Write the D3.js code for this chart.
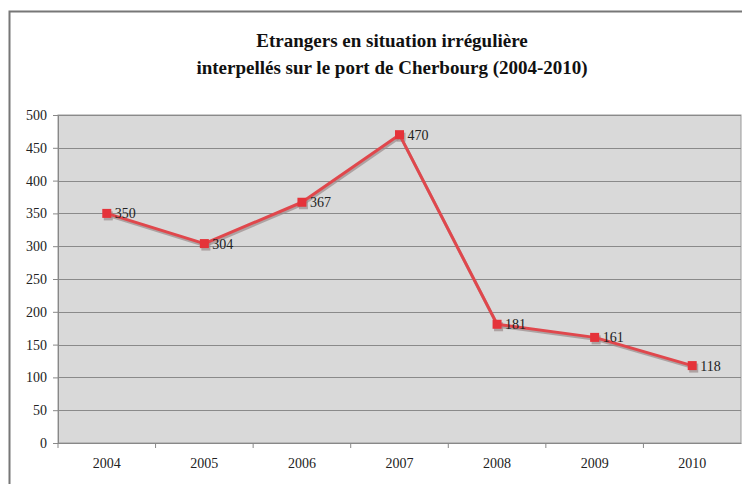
<!DOCTYPE html>
<html>
<head>
<meta charset="utf-8">
<script src="https://cdn.jsdelivr.net/npm/d3@7"></script>
<style>
body { margin: 0; background: #fff; }
text { font-family: "Liberation Serif", "DejaVu Serif", serif; }
</style>
</head>
<body>
<div id="chart"></div>
<script>
var width = 742;
var height = 484;

var years = ["2004", "2005", "2006", "2007", "2008", "2009", "2010"];
var values = [350, 304, 367, 470, 181, 161, 118];
var yTicks = [0, 50, 100, 150, 200, 250, 300, 350, 400, 450, 500];
var titleLines = ["Etrangers en situation irrégulière", "interpellés sur le port de Cherbourg (2004-2010)"];

var plotLeft = 58, plotRight = 741, plotTop = 115, plotBottom = 443;

var svg = d3.select("#chart")
    .append("svg")
    .attr("width", width)
    .attr("height", height);

// outer frame (cropped at right and bottom)
svg.append("rect")
    .attr("x", 9.5)
    .attr("y", 11.5)
    .attr("width", 740)
    .attr("height", 480)
    .attr("fill", "#fff")
    .attr("stroke", "#777")
    .attr("stroke-width", 2);

svg.selectAll("text.title")
    .data(titleLines)
    .enter()
    .append("text")
    .attr("class", "title")
    .attr("x", 392)
    .attr("y", function(d, i) { return 47 + i * 27; })
    .attr("text-anchor", "middle")
    .attr("font-size", "19px")
    .attr("font-weight", "bold")
    .attr("fill", "#111")
    .text(function(d) { return d; });

var x = d3.scaleBand()
    .domain(years)
    .range([plotLeft, plotRight]);

var y = d3.scaleLinear()
    .domain([0, 500])
    .range([plotBottom, plotTop]);

svg.append("rect")
    .attr("x", plotLeft)
    .attr("y", plotTop)
    .attr("width", plotRight - plotLeft)
    .attr("height", plotBottom - plotTop)
    .attr("fill", "#d9d9d9")
    .attr("stroke", "#999")
    .attr("stroke-width", 1);

// gridlines
svg.append("g")
    .selectAll("line")
    .data(yTicks)
    .enter()
    .append("line")
    .attr("x1", plotLeft)
    .attr("x2", plotRight)
    .attr("y1", function(d) { return Math.round(y(d)) + 0.5; })
    .attr("y2", function(d) { return Math.round(y(d)) + 0.5; })
    .attr("stroke", "#8a8a8a")
    .attr("stroke-width", 1.2);

// y axis
var yAxis = svg.append("g")
    .attr("transform", "translate(" + plotLeft + ",0)")
    .call(d3.axisLeft(y).tickValues(yTicks).tickSize(5).tickPadding(6));
yAxis.select(".domain").attr("stroke", "#888");
yAxis.selectAll(".tick line").attr("stroke", "#888");
yAxis.selectAll(".tick text")
    .attr("font-family", "Liberation Serif, serif")
    .attr("font-size", "14px")
    .attr("fill", "#222");

// x axis
var xAxis = svg.append("g")
    .attr("transform", "translate(0," + plotBottom + ")")
    .call(d3.axisBottom(x).tickSize(0).tickPadding(15));
xAxis.select(".domain").attr("stroke", "#888");
xAxis.selectAll(".tick text")
    .attr("font-family", "Liberation Serif, serif")
    .attr("font-size", "14px")
    .attr("fill", "#222");
xAxis.selectAll("line.sep")
    .data(years)
    .enter()
    .append("line")
    .attr("class", "sep")
    .attr("x1", function(d) { return x(d); })
    .attr("x2", function(d) { return x(d); })
    .attr("y1", 0)
    .attr("y2", 5)
    .attr("stroke", "#888");

var line = d3.line()
    .x(function(d, i) { return x(years[i]) + x.bandwidth() / 2; })
    .y(function(d) { return y(d); });

// shadow
svg.append("path")
    .datum(values)
    .attr("d", line)
    .attr("transform", "translate(1,2)")
    .attr("fill", "none")
    .attr("stroke", "#9a8a8a")
    .attr("stroke-width", 3)
    .attr("opacity", 0.7);

svg.selectAll("rect.shadow")
    .data(values)
    .enter()
    .append("rect")
    .attr("class", "shadow")
    .attr("x", function(d, i) { return x(years[i]) + x.bandwidth() / 2 - 4 + 1; })
    .attr("y", function(d) { return y(d) - 4 + 2; })
    .attr("width", 9)
    .attr("height", 9)
    .attr("fill", "#9a8a8a")
    .attr("opacity", 0.7);

svg.append("path")
    .datum(values)
    .attr("d", line)
    .attr("fill", "none")
    .attr("stroke", "#e0474c")
    .attr("stroke-width", 3)
    .attr("stroke-linejoin", "round");

svg.selectAll("rect.marker")
    .data(values)
    .enter()
    .append("rect")
    .attr("class", "marker")
    .attr("x", function(d, i) { return x(years[i]) + x.bandwidth() / 2 - 4.5; })
    .attr("y", function(d) { return y(d) - 4.5; })
    .attr("width", 9)
    .attr("height", 9)
    .attr("fill", "#e5333a");

svg.selectAll("text.label")
    .data(values)
    .enter()
    .append("text")
    .attr("class", "label")
    .attr("x", function(d, i) { return x(years[i]) + x.bandwidth() / 2 + 8; })
    .attr("y", function(d) { return y(d) + 5; })
    .attr("font-size", "14px")
    .attr("fill", "#222")
    .text(function(d) { return d; });
</script>
</body>
</html>
